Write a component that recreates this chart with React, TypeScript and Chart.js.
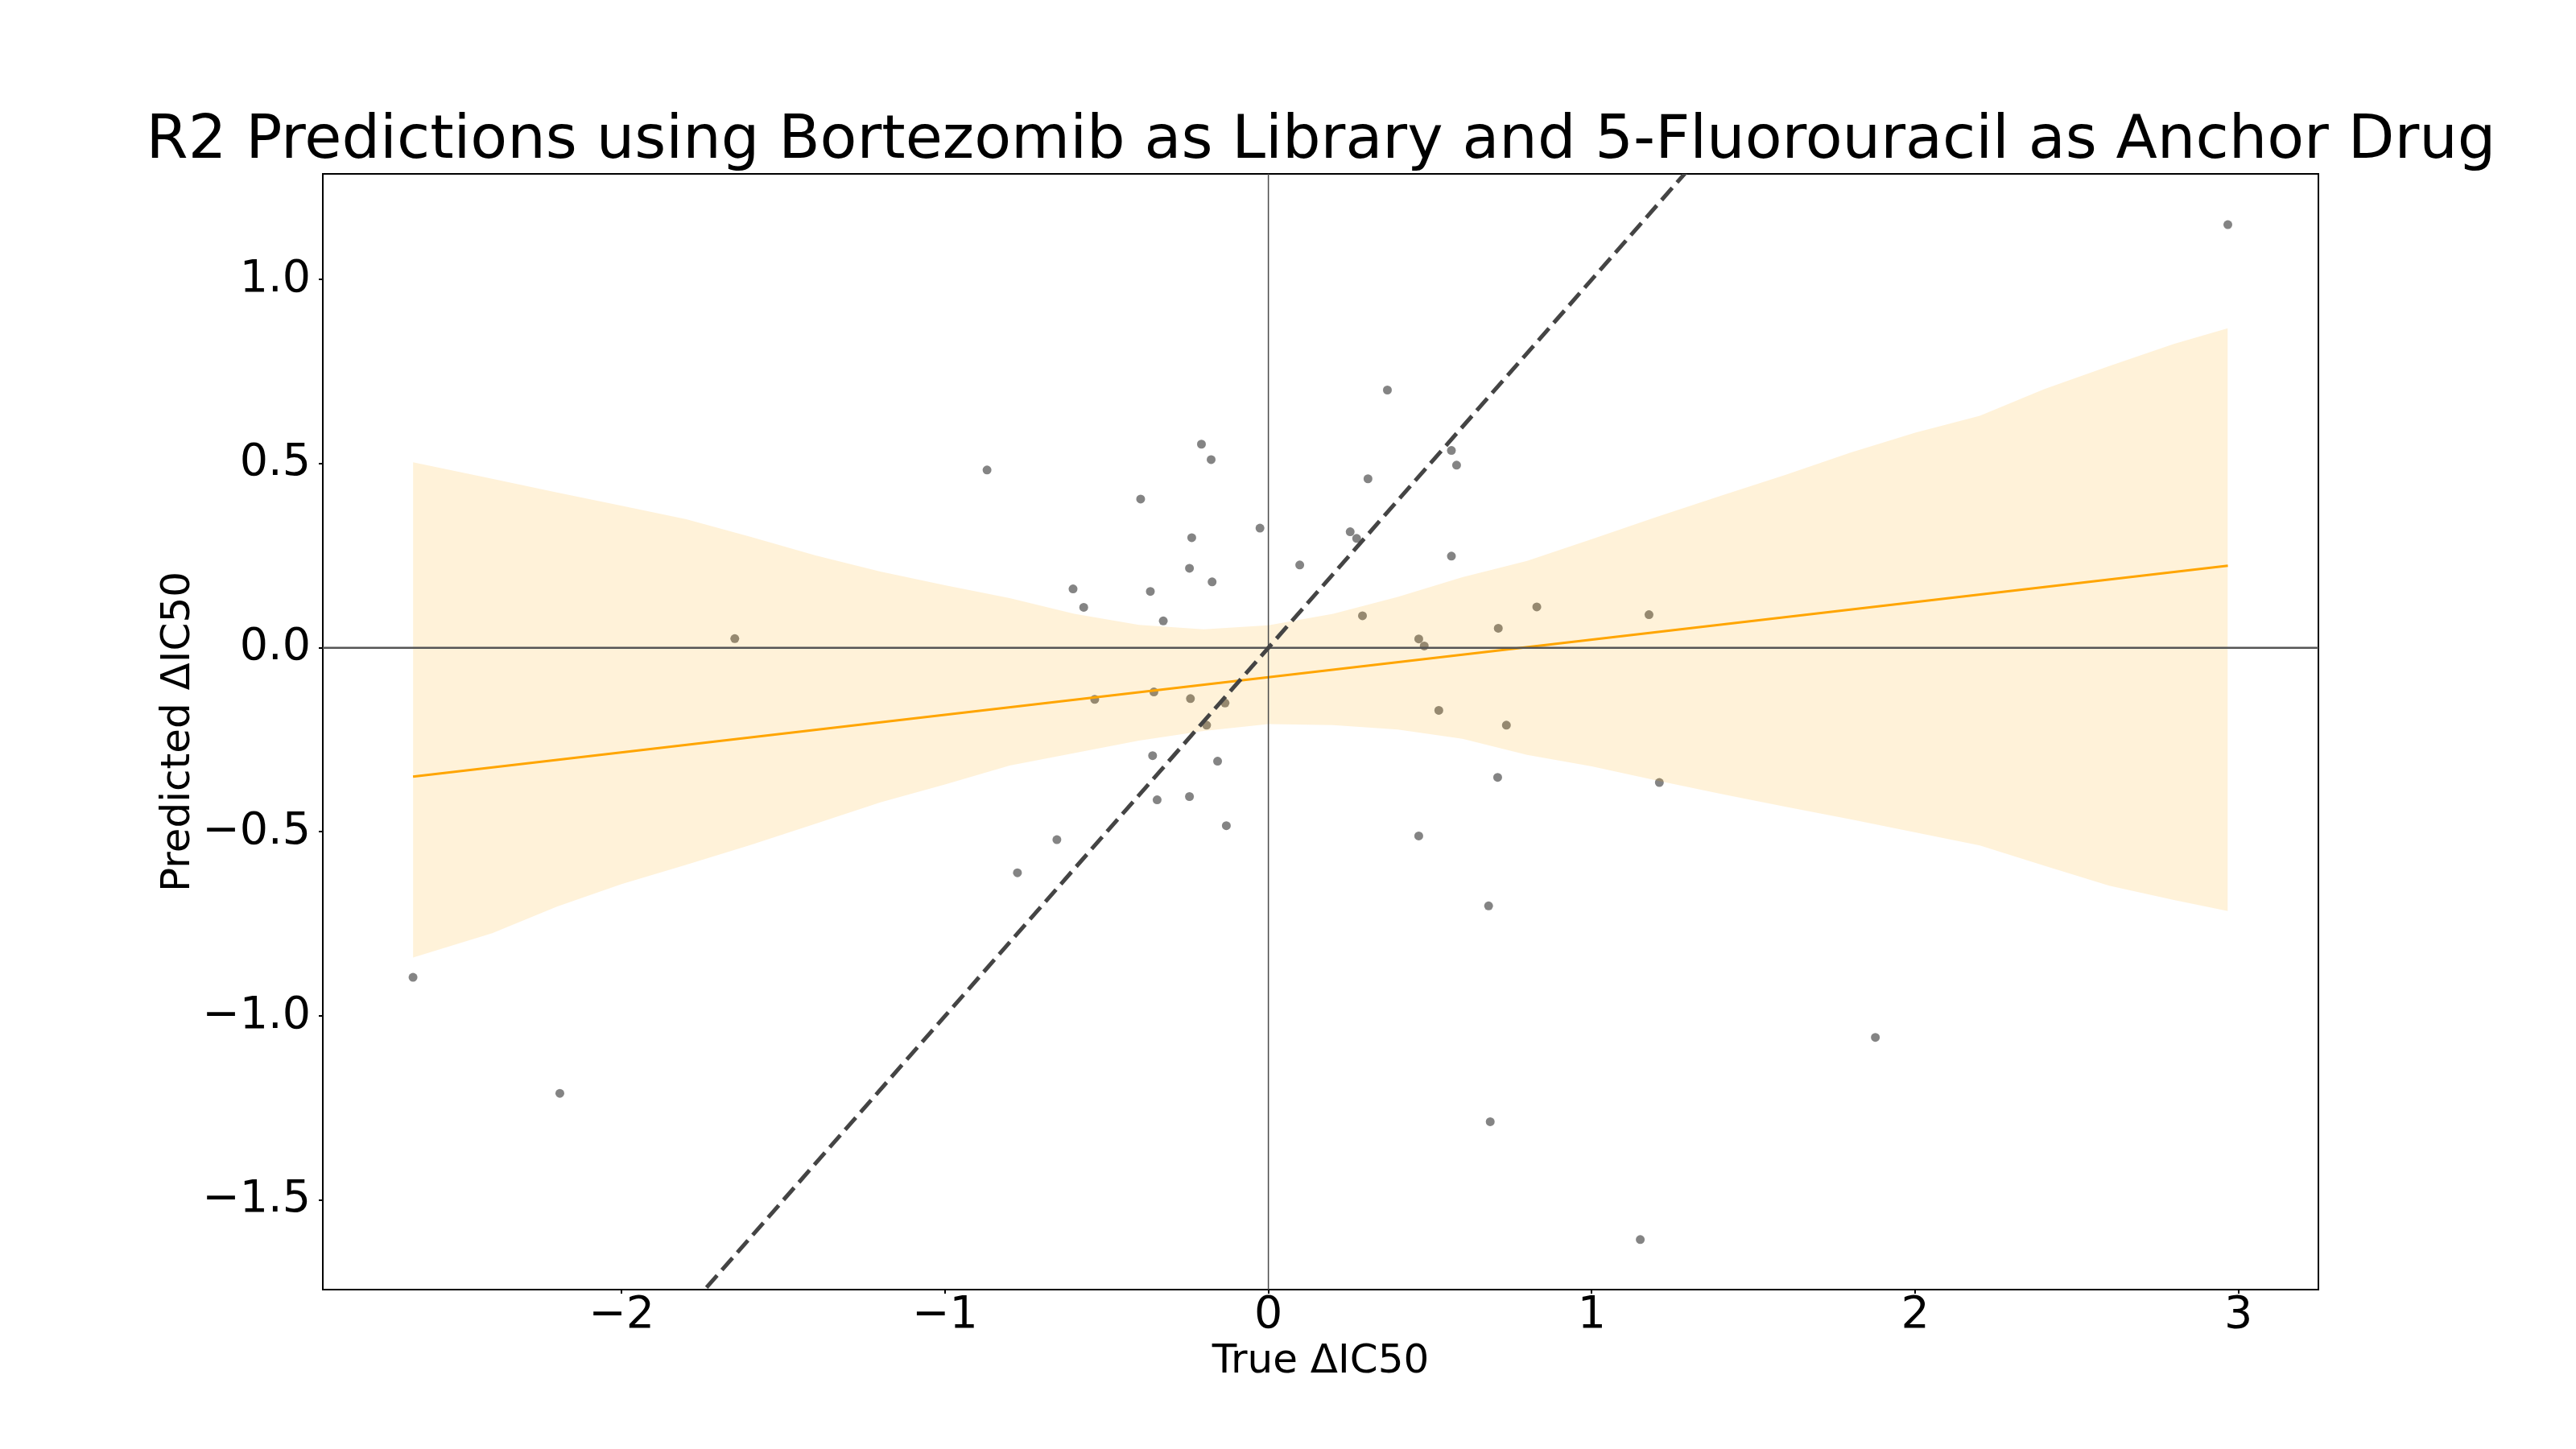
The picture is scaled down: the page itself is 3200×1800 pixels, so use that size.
import React, { useEffect, useRef } from 'react';
import { Chart, registerables } from 'chart.js';

Chart.register(...registerables);

// measured points (true vs predicted ΔIC50)
const trueIC50 = [
  -2.645, -2.191, -1.650, -0.870, -0.776, -0.654, -0.604, -0.571, -0.537, -0.395,
  -0.365, -0.358, -0.354, -0.344, -0.325, -0.244, -0.237, -0.244, -0.241, -0.207,
  -0.191, -0.174, -0.177, -0.157, -0.134, -0.130, -0.026, 0.097, 0.253, 0.273,
  0.291, 0.308, 0.368, 0.465, 0.482, 0.465, 0.527, 0.566, 0.582, 0.566,
  0.681, 0.686, 0.709, 0.711, 0.736, 0.830, 1.150, 1.177, 1.209, 1.877, 2.967,
];
const predictedIC50 = [
  -0.895, -1.210, 0.025, 0.483, -0.611, -0.521, 0.160, 0.110, -0.140, 0.404,
  0.153, -0.293, -0.120, -0.413, 0.073, -0.404, 0.299, 0.216, -0.138, 0.553,
  -0.210, 0.179, 0.511, -0.308, -0.150, -0.483, 0.325, 0.225, 0.315, 0.297,
  0.087, 0.459, 0.700, 0.024, 0.005, -0.511, -0.170, 0.536, 0.496, 0.249,
  -0.701, -1.287, -0.352, 0.053, -0.210, 0.111, -1.607, 0.090, -0.366, -1.058, 1.149,
];

// regression line and its confidence band
const fitX = [-2.645, 2.967];
const fitY = [-0.35, 0.223];
const bandX = [
  -2.645, -2.4, -2.2, -2.0, -1.8, -1.6, -1.4, -1.2, -1.0, -0.8, -0.6, -0.4, -0.2, 0,
  0.2, 0.4, 0.6, 0.8, 1.0, 1.2, 1.4, 1.6, 1.8, 2.0, 2.2, 2.4, 2.6, 2.8, 2.967,
];
const bandUpper = [
  0.504, 0.459, 0.422, 0.386, 0.349, 0.301, 0.251, 0.207, 0.170, 0.135, 0.092, 0.062, 0.050, 0.061,
  0.092, 0.138, 0.192, 0.236, 0.295, 0.355, 0.413, 0.470, 0.530, 0.584, 0.630, 0.703, 0.765, 0.825, 0.868,
];
const bandLower = [
  -0.841, -0.775, -0.703, -0.642, -0.589, -0.535, -0.478, -0.420, -0.371, -0.320, -0.286, -0.252, -0.226, -0.207,
  -0.210, -0.222, -0.247, -0.291, -0.322, -0.360, -0.397, -0.432, -0.466, -0.501, -0.537, -0.592, -0.646, -0.685, -0.715,
];

const identityRange = [-3.5, 3.5];
const xTickValues = [-2, -1, 0, 1, 2, 3];
const yTickValues = [-1.5, -1.0, -0.5, 0, 0.5, 1.0];
const xLimits = [-2.924, 3.247];
const yLimits = [-1.743, 1.287];

const FONT = "'DejaVu Sans', sans-serif";

const fmt = (v: number, digits: number) => (v < 0 ? '\u2212' : '') + Math.abs(v).toFixed(digits);

const App: React.FC = () => {
  const chartRef = useRef<HTMLCanvasElement>(null);

  useEffect(() => {
    document.body.style.margin = '0';
    if (!chartRef.current) return;
    const context = chartRef.current.getContext('2d');
    if (!context) return;

    const lineBase = { type: 'line' as const, pointRadius: 0, tension: 0, clip: 0 };

    const chart = new Chart(context, {
      type: 'scatter',
      data: {
        datasets: [
          {
            ...lineBase,
            data: identityRange.map((v) => ({ x: v, y: v })),
            borderColor: '#444444',
            borderWidth: 5,
            borderDash: [20, 9],
            order: 0,
          },
          {
            ...lineBase,
            data: xLimits.map((v) => ({ x: v, y: 0 })),
            borderColor: '#555555',
            borderWidth: 2.5,
            order: 1,
          },
          {
            ...lineBase,
            data: yLimits.map((v) => ({ x: 0, y: v })),
            borderColor: '#4a4a4a',
            borderWidth: 1.5,
            order: 1,
          },
          {
            ...lineBase,
            data: fitX.map((x, i) => ({ x, y: fitY[i] })),
            borderColor: '#FFA500',
            borderWidth: 3,
            order: 2,
          },
          {
            ...lineBase,
            data: bandX.map((x, i) => ({ x, y: bandUpper[i] })),
            borderWidth: 0,
            borderColor: 'rgba(0,0,0,0)',
            backgroundColor: 'rgba(255,165,0,0.15)',
            fill: '+1',
            order: 3,
          },
          {
            ...lineBase,
            data: bandX.map((x, i) => ({ x, y: bandLower[i] })),
            borderWidth: 0,
            borderColor: 'rgba(0,0,0,0)',
            fill: false,
            order: 3,
          },
          {
            type: 'scatter',
            data: trueIC50.map((x, i) => ({ x, y: predictedIC50[i] })),
            backgroundColor: 'rgba(50,50,50,0.6)',
            borderWidth: 0,
            pointRadius: 5.5,
            order: 4,
          },
        ],
      },
      options: {
        responsive: false,
        devicePixelRatio: 1,
        animation: false,
        events: [],
        layout: { padding: { left: 82, right: 0, top: 0, bottom: 0 } },
        plugins: {
          legend: { display: false },
          tooltip: { enabled: false },
          title: {
            display: true,
            text: 'R2 Predictions using Bortezomib as Library and 5-Fluorouracil as Anchor Drug',
            color: '#000',
            font: { family: FONT, size: 75, weight: 'normal', lineHeight: 1 },
            padding: { top: 139, bottom: 2 },
          },
        },
        scales: {
          x: {
            type: 'linear',
            position: 'bottom',
            min: xLimits[0],
            max: xLimits[1],
            afterBuildTicks: (scale) => {
              scale.ticks = xTickValues.map((value) => ({ value }));
            },
            afterFit: (scale) => {
              scale.height = 198;
            },
            ticks: {
              color: '#000',
              font: { family: FONT, size: 55.5, lineHeight: 1 },
              padding: 0,
              maxRotation: 0,
              autoSkip: false,
              callback: (v) => fmt(Number(v), 0),
            },
            grid: { drawOnChartArea: false, drawTicks: true, tickLength: 5, color: '#000', lineWidth: 2 },
            border: { display: true, color: '#000', width: 2 },
            title: {
              display: true,
              text: 'True ΔIC50',
              color: '#000',
              font: { family: FONT, size: 50, lineHeight: 1.2 },
              padding: { top: 0, bottom: 78 },
            },
          },
          y: {
            type: 'linear',
            position: 'left',
            min: yLimits[0],
            max: yLimits[1],
            afterBuildTicks: (scale) => {
              scale.ticks = yTickValues.map((value) => ({ value }));
            },
            afterFit: (scale) => {
              scale.width = 319;
            },
            ticks: {
              color: '#000',
              font: { family: FONT, size: 55.5, lineHeight: 1 },
              padding: 10,
              autoSkip: false,
              callback: (v) => fmt(Number(v), 1),
            },
            grid: { drawOnChartArea: false, drawTicks: true, tickLength: 5, color: '#000', lineWidth: 2 },
            border: { display: true, color: '#000', width: 2 },
            title: {
              display: true,
              text: 'Predicted ΔIC50',
              color: '#000',
              font: { family: FONT, size: 50, lineHeight: 1.2 },
              padding: { top: 110, bottom: 0 },
            },
          },
          xTop: {
            type: 'linear',
            position: 'top',
            min: xLimits[0],
            max: xLimits[1],
            afterFit: (scale) => {
              scale.height = 0;
            },
            ticks: { display: false },
            grid: { display: false, drawTicks: false },
            border: { display: true, color: '#000', width: 2 },
          },
          yRight: {
            type: 'linear',
            position: 'right',
            min: yLimits[0],
            max: yLimits[1],
            afterFit: (scale) => {
              scale.width = 320;
            },
            ticks: { display: false },
            grid: { display: false, drawTicks: false },
            border: { display: true, color: '#000', width: 2 },
          },
        },
      },
    });

    return () => {
      chart.destroy();
    };
  }, []);

  return (
    <div style={{ width: 3200, height: 1800, background: '#fff' }}>
      <canvas ref={chartRef} width={3200} height={1800} />
    </div>
  );
};

export default App;
